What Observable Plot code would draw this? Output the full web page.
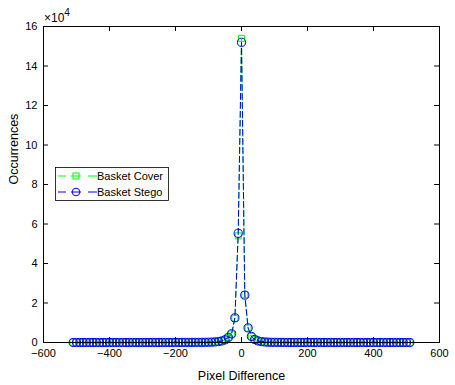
<!DOCTYPE html>
<html>
<head>
<meta charset="utf-8">
<script src="https://cdn.jsdelivr.net/npm/d3@7"></script>
<script src="https://cdn.jsdelivr.net/npm/@observablehq/plot@0.6"></script>
<style>
  html, body { margin: 0; padding: 0; background: #fff; }
  #chart { position: relative; width: 455px; height: 385px; }
</style>
</head>
<body>
<div id="chart"></div>
<script>
// Pixel difference grid (x)
const pixelDiff = d3.range(-510, 511, 10);

// Occurrences, Basket Cover
const coverCounts = [
  0,0,0,0,0,0,0,0,0,0, 0,0,1,1,1,2,2,3,3,4, 5,6,7,8,10,12,14,16,19,22, 26,30,35,40,46,52,60,68,78,90, 105,
  130,180,280,450,750,1300,2500,4300,12300,54000,
  154000,
  24200,7300,3000,1500,800,450,260,160,110,80,
  60,50,42,36,30,26,22,19,16,14, 12,10,8,7,6,5,4,3,3,2, 2,1,1,1,0,0,0,0,0,0, 0,0,0,0,0,0,0,0,0,0, 0
];

// Occurrences, Basket Stego
const stegoCounts = [
  0,0,0,0,0,0,0,0,0,0, 0,0,1,1,1,2,2,3,3,4, 5,6,7,8,10,12,14,16,19,22, 26,30,35,40,46,52,60,68,78,90, 105,
  135,190,290,470,780,1350,2600,4400,12500,55300,
  152000,
  24000,7400,3100,1550,820,460,270,165,110,80,
  60,50,42,36,30,26,22,19,16,14, 12,10,8,7,6,5,4,3,3,2, 2,1,1,1,0,0,0,0,0,0, 0,0,0,0,0,0,0,0,0,0, 0
];

const xTicks = [-600, -400, -200, 0, 200, 400, 600];
const yTicks = [0, 2, 4, 6, 8, 10, 12, 14, 16];
const seriesNames = ["Basket Cover", "Basket Stego"];
const seriesColors = ["#00ff00", "#0000ff"];

const cover = pixelDiff.map((x, i) => ({x, y: coverCounts[i] / 1e4}));
const stego = pixelDiff.map((x, i) => ({x, y: stegoCounts[i] / 1e4}));

const font = "'Liberation Sans', Arial, Helvetica, sans-serif";

const plot = Plot.plot({
  width: 455,
  height: 385,
  marginLeft: 43,
  marginRight: 16,
  marginTop: 26,
  marginBottom: 43,
  style: {fontFamily: font, fontSize: "11px", color: "#000", background: "#fff"},
  x: {domain: [-600, 600]},
  y: {domain: [0, 16]},
  marks: [
    Plot.line(cover, {x: "x", y: "y", stroke: seriesColors[0], strokeWidth: 1, strokeDasharray: "6,3"}),
    Plot.dot(cover, {x: "x", y: "y", symbol: "square", r: 3.4, stroke: seriesColors[0], fill: "none", strokeWidth: 1}),
    Plot.line(stego, {x: "x", y: "y", stroke: seriesColors[1], strokeWidth: 1, strokeDasharray: "6,3"}),
    Plot.dot(stego, {x: "x", y: "y", symbol: "circle", r: 4.1, stroke: seriesColors[1], fill: "none", strokeWidth: 1}),
    Plot.frame({stroke: "#000", strokeWidth: 1}),
    // inward ticks on all four sides
    Plot.ruleX(xTicks, {x: d => d, y1: 0, y2: 0.25, stroke: "#000"}),
    Plot.ruleX(xTicks, {x: d => d, y1: 16, y2: 15.75, stroke: "#000"}),
    Plot.ruleY(yTicks, {y: d => d, x1: -600, x2: -585, stroke: "#000"}),
    Plot.ruleY(yTicks, {y: d => d, x1: 600, x2: 585, stroke: "#000"}),
    Plot.axisX(xTicks, {tickSize: 0, tickPadding: 7, fontSize: 11, label: null}),
    Plot.axisY(yTicks, {tickSize: 0, tickPadding: 6, fontSize: 11, label: null}),
    Plot.text(["Pixel Difference"], {frameAnchor: "bottom", dy: 37, fontSize: 12.5, fill: "#000"}),
    Plot.text(["Occurrences"], {frameAnchor: "left", dx: -30, rotate: -90, fontSize: 12.5, fill: "#000"})
  ]
});

document.getElementById("chart").appendChild(plot);

const svg = d3.select(plot);

// ×10^4 exponent label
const expo = svg.append("text")
  .attr("x", 44).attr("y", 22).attr("text-anchor", "start")
  .attr("font-family", font).attr("font-size", 12).attr("fill", "#000");
expo.append("tspan").text("\u00d710");
expo.append("tspan").attr("dy", -6).attr("font-size", 10).text("4");

// Legend
const lg = svg.append("g").attr("font-family", font).attr("text-anchor", "start");
lg.append("rect").attr("x", 55.5).attr("y", 167.5).attr("width", 113).attr("height", 33)
  .attr("fill", "#fff").attr("stroke", "#000").attr("stroke-width", 0.8);
const rows = [176, 192];
seriesNames.forEach((name, i) => {
  const y = rows[i];
  [[58, 66], [88, 97], [71, 81]].forEach(([a, b]) => {
    lg.append("line").attr("x1", a).attr("x2", b).attr("y1", y).attr("y2", y)
      .attr("stroke", seriesColors[i]).attr("stroke-width", 1);
  });
  if (i === 0) {
    lg.append("rect").attr("x", 73).attr("y", y - 3).attr("width", 6).attr("height", 6)
      .attr("fill", "none").attr("stroke", seriesColors[i]);
  } else {
    lg.append("circle").attr("cx", 76).attr("cy", y).attr("r", 3.8)
      .attr("fill", "none").attr("stroke", seriesColors[i]);
  }
  lg.append("text").attr("x", 97).attr("y", y).attr("dy", "0.35em").attr("text-anchor", "start")
    .attr("font-size", 11).attr("fill", "#000").text(name);
});
</script>
</body>
</html>
